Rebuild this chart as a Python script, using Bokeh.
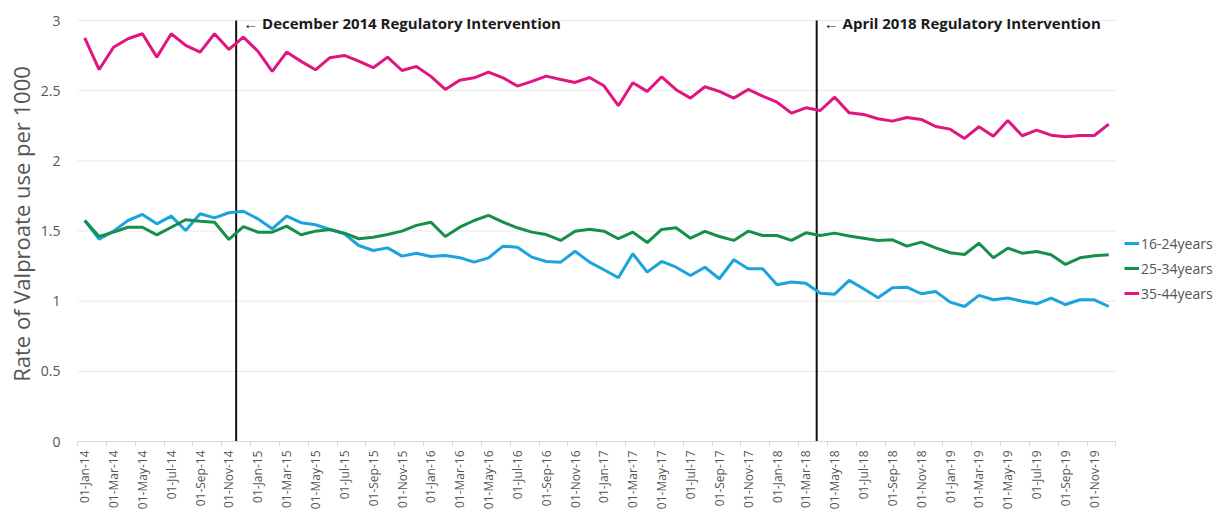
import pandas as pd
from math import pi
from bokeh.plotting import figure
from bokeh.models import Range1d, FixedTicker, Legend, LegendItem, Label
from bokeh.embed import file_html
from bokeh.resources import INLINE

months = pd.date_range("2014-01-01", periods=72, freq="MS")
month_labels = [d.strftime("%d-%b-%y") for d in months]

rate_16_24 = [1.575, 1.442, 1.499, 1.575, 1.618, 1.551, 1.606, 1.504, 1.623, 1.594,
              1.630, 1.641, 1.587, 1.516, 1.606, 1.559, 1.545, 1.511, 1.480, 1.397,
              1.361, 1.380, 1.321, 1.342, 1.319, 1.326, 1.310, 1.278, 1.309, 1.392,
              1.385, 1.314, 1.283, 1.278, 1.356, 1.278, 1.224, 1.167, 1.338, 1.207,
              1.283, 1.242, 1.183, 1.242, 1.160, 1.295, 1.231, 1.231, 1.117, 1.136,
              1.128, 1.057, 1.050, 1.148, 1.088, 1.024, 1.095, 1.100, 1.053, 1.069,
              0.993, 0.962, 1.041, 1.010, 1.022, 1.000, 0.981, 1.022, 0.976, 1.010,
              1.010, 0.962]
rate_25_34 = [1.575, 1.461, 1.492, 1.527, 1.527, 1.473, 1.527, 1.580, 1.570, 1.563,
              1.440, 1.532, 1.492, 1.492, 1.535, 1.473, 1.499, 1.511, 1.485, 1.445,
              1.456, 1.475, 1.499, 1.540, 1.563, 1.461, 1.527, 1.575, 1.611, 1.563,
              1.523, 1.492, 1.475, 1.433, 1.499, 1.513, 1.499, 1.445, 1.492, 1.418,
              1.511, 1.523, 1.449, 1.497, 1.461, 1.433, 1.499, 1.468, 1.468, 1.433,
              1.487, 1.468, 1.485, 1.464, 1.449, 1.433, 1.437, 1.392, 1.421, 1.380,
              1.345, 1.333, 1.413, 1.309, 1.378, 1.342, 1.354, 1.331, 1.262, 1.309,
              1.323, 1.331]
rate_35_44 = [2.877, 2.651, 2.810, 2.870, 2.906, 2.739, 2.906, 2.823, 2.775, 2.906,
              2.794, 2.882, 2.782, 2.637, 2.775, 2.709, 2.649, 2.735, 2.751, 2.711,
              2.664, 2.739, 2.644, 2.673, 2.602, 2.509, 2.575, 2.592, 2.632, 2.592,
              2.533, 2.566, 2.604, 2.580, 2.559, 2.594, 2.535, 2.393, 2.557, 2.495,
              2.599, 2.507, 2.447, 2.528, 2.495, 2.447, 2.509, 2.461, 2.418, 2.340,
              2.378, 2.359, 2.454, 2.342, 2.331, 2.300, 2.283, 2.309, 2.295, 2.245,
              2.226, 2.160, 2.243, 2.176, 2.288, 2.179, 2.219, 2.183, 2.172, 2.181,
              2.181, 2.262]

series_names = ["16-24years", "25-34years", "35-44years"]
series_colors = ["#1ba3dd", "#15904a", "#e0157f"]
series_values = [rate_16_24, rate_25_34, rate_35_44]

intervention_text = ["\u2190 December 2014 Regulatory Intervention",
                     "\u2190 April 2018 Regulatory Intervention"]
intervention_pos = [10.5, 50.75]

y_ticks = [0, 0.5, 1, 1.5, 2, 2.5, 3]

FONT = "Open Sans"
x = list(range(len(months)))
x_lo, x_hi = -0.5, len(months) - 0.5
y_max = y_ticks[-1]

# the frame reaches the right edge so that the legend (placed in it) is not clipped
p = figure(width=1215, height=512, output_backend="svg", toolbar_location=None,
           x_range=Range1d(x_lo, 78.4), y_range=Range1d(0, 3.1),
           min_border_left=77, min_border_right=0, min_border_top=6, min_border_bottom=71)
p.outline_line_color = None
p.background_fill_color = "white"

# grid (limited to the data span)
p.xgrid.grid_line_color = None
p.ygrid.grid_line_color = None
p.segment(x0=[x_lo] * len(y_ticks), x1=[x_hi] * len(y_ticks), y0=y_ticks, y1=y_ticks,
          line_color="#e8e8e8", line_width=1)

# y axis
p.yaxis.ticker = FixedTicker(ticks=y_ticks)
p.yaxis.axis_line_color = None
p.yaxis.major_tick_line_color = None
p.yaxis.minor_tick_line_color = None
p.yaxis.major_tick_in = 0
p.yaxis.major_tick_out = 0
p.yaxis.major_label_standoff = 17
p.yaxis.major_label_text_font = FONT
p.yaxis.major_label_text_font_size = "14px"
p.yaxis.major_label_text_color = "#555555"
p.yaxis.axis_label = "Rate of Valproate use per 1000"
p.yaxis.axis_label_text_font = FONT
p.yaxis.axis_label_text_font_size = "22px"
p.yaxis.axis_label_text_font_style = "normal"
p.yaxis.axis_label_text_color = "#555555"
p.yaxis.axis_label_standoff = 2

# x axis
p.xaxis.bounds = (x_lo, x_hi)
p.xaxis.ticker = FixedTicker(ticks=x[::2], minor_ticks=[i - 0.5 for i in x[::2]] + [x_hi])
p.xaxis.major_label_overrides = {i: month_labels[i] for i in x[::2]}
p.xaxis.major_label_orientation = pi / 2
p.xaxis.major_tick_line_color = None
p.xaxis.major_tick_in = 0
p.xaxis.major_tick_out = 0
p.xaxis.minor_tick_line_color = "#d9d9d9"
p.xaxis.minor_tick_in = 0
p.xaxis.minor_tick_out = 5
p.xaxis.axis_line_color = "#d9d9d9"
p.xaxis.major_label_standoff = 4
p.xaxis.major_label_text_font = FONT
p.xaxis.major_label_text_font_size = "12px"
p.xaxis.major_label_text_color = "#555555"

# intervention lines
p.segment(x0=intervention_pos, x1=intervention_pos, y0=[0, 0], y1=[y_max, y_max],
          line_color="#111111", line_width=2)
for xp, txt in zip(intervention_pos, intervention_text):
    p.add_layout(Label(x=xp, y=y_max, x_offset=7, y_offset=-2, text=txt,
                       text_baseline="middle", text_font=FONT, text_font_size="15px",
                       text_font_style="bold", text_color="#1a1a1a"))

items = []
for name, col, vals in zip(series_names, series_colors, series_values):
    r = p.line(x, vals, line_color=col, line_width=3)
    items.append(LegendItem(label=name, renderers=[r]))

legend = Legend(items=items, location=(1047, 138), border_line_color=None,
                background_fill_alpha=0, glyph_width=15, glyph_height=20,
                label_standoff=2, spacing=5, padding=0, margin=0,
                label_text_font=FONT, label_text_font_size="14px",
                label_text_color="#555555")
p.add_layout(legend, "center")

open("out.html", "w").write(file_html(p, INLINE))
